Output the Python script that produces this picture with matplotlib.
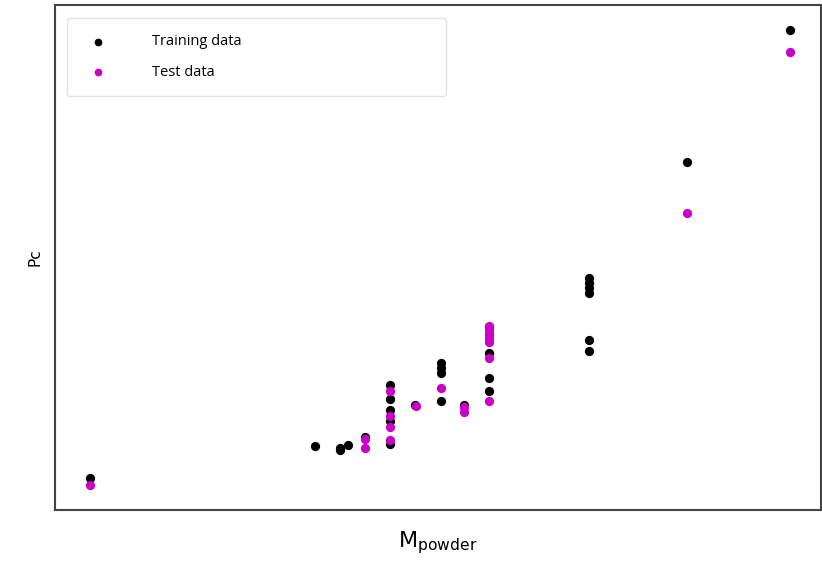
import matplotlib.pyplot as plt

# values (arbitrary units, no ticks shown)
train_x = [90, 315, 340, 340, 348, 365,
           390, 390, 390, 390, 390, 415,
           441, 441, 441, 441, 464, 489, 489, 489, 489,
           590, 590, 590, 590, 590, 590, 688, 791]
train_y = [32, 64, 60, 62, 65, 73,
           125, 111, 100, 89, 66, 105,
           147, 142, 137, 109, 105, 183, 157, 132, 119,
           232, 227, 222, 217, 170, 159, 348, 480]

test_x = [90, 365, 365, 390, 390, 390, 390, 416, 441, 464, 464,
          489, 489, 489, 489, 489, 489, 489, 688, 791]
test_y = [25, 71, 62, 119, 94, 83, 70, 104, 122, 103, 98,
          184, 180, 176, 172, 168, 152, 109, 297, 458]

fig = plt.figure(figsize=(8.22, 5.62), dpi=100)
ax = fig.add_axes([0.067, 0.0925, 0.932, 0.899])

ax.scatter(train_x, train_y, s=32, color='black', label='Training data')
ax.scatter(test_x, test_y, s=32, color='#c800c8', label='Test data')

ax.set_xlim(55, 822)
ax.set_ylim(0, 505)
ax.set_xticks([])
ax.set_yticks([])
for sp in ax.spines.values():
    sp.set_color('#444444')
    sp.set_linewidth(1.5)

ax.set_xlabel(r'M$_{\mathregular{powder}}$', fontsize=16, labelpad=14)
ax.set_ylabel('Pc', fontsize=11, labelpad=9)

leg = ax.legend(loc='upper left', bbox_to_anchor=(0.0156, 0.5, 0.495, 0.474),
                mode='expand', borderaxespad=0, handletextpad=2.7,
                labelspacing=1.05, borderpad=1.13, markerscale=0.8,
                fancybox=True, prop={'family': 'Open Sans', 'size': 10.5})
leg.get_frame().set_edgecolor('#dddddd')

fig.savefig('out.png', dpi=100)
